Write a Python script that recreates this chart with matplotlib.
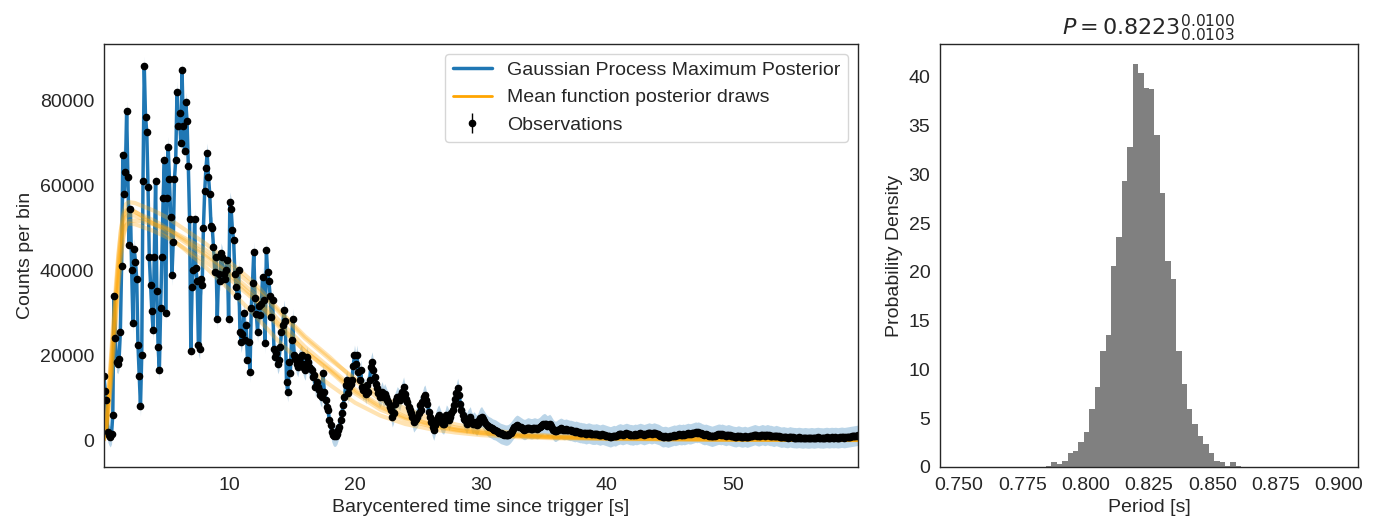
import matplotlib
matplotlib.use("Agg")
import matplotlib.pyplot as plt
import numpy as np
import seaborn as sns

# --- light curve, 0.1 s bins starting at t = 0.05 s
bin_width = 0.1
t_first = 0.05
obs_counts = np.array([
    15000, 11500, 9500, 2000, 1200, 800, 1500, 6000, 34000, 24000,
    18400, 18000, 19000, 25500, 41000, 67000, 58000, 63000, 77500, 62000,
    46000, 54500, 40000, 27500, 45000, 42000, 38000, 22500, 15000, 8000,
    20000, 61000, 88000, 76000, 72500, 59500, 43000, 36500, 30500, 26000,
    43000, 61000, 35000, 22000, 16500, 31000, 43000, 57000, 66000, 30000,
    57000, 69000, 61500, 52500, 38800, 46600, 61500, 66000, 82000, 74000,
    77000, 70000, 87000, 74000, 68000, 79500, 75000, 64500, 52000, 21000,
    36000, 40000, 52000, 40500, 37500, 22500, 21500, 38000, 36500, 50000,
    58500, 64000, 67500, 62000, 58000, 50500, 50000, 45500, 39500, 43000,
    28500, 39000, 37500, 44000, 43000, 39000, 38000, 40000, 42500, 28500,
    56000, 54500, 49500, 47000, 39000, 36000, 34000, 40000, 25500, 23000,
    25000, 30000, 23500, 27000, 18800, 23000, 16000, 31000, 37000, 44300,
    33500, 29800, 25500, 31500, 29500, 32000, 38500, 33000, 22800, 44700,
    39500, 37500, 34000, 29000, 33000, 21500, 19600, 20400, 18000, 18800,
    22000, 25500, 27000, 30600, 28000, 13700, 11400, 18500, 15700, 23500,
    28500, 20000, 19000, 18000, 17300, 18800, 19600, 20000, 18000, 17000,
    16500, 19600, 18400, 17300, 17000, 16500, 14900, 15300, 12500, 13700,
    12500, 11800, 10600, 10200, 15700, 11400, 9400, 7800, 7100, 4700,
    3500, 2000, 1200, 900, 1000, 1400, 2300, 3100, 4700, 6300,
    8200, 10200, 12900, 14100, 11000, 12500, 13300, 14100, 17500, 20000,
    18000, 20000, 16100, 14100, 16500, 12500, 11800, 12200, 10900, 13000,
    11400, 14100, 17250, 18400, 16500, 14900, 13300, 12200, 11000, 10200,
    10600, 11400, 10200, 10900, 10200, 9400, 9000, 7800, 7100, 5500,
    6300, 8600, 9400, 10200, 9800, 9400, 10600, 11400, 12500, 10900,
    9800, 9000, 7800, 7000, 6300, 5500, 4300, 4700, 5100, 5500,
    6300, 8200, 7100, 9000, 10200, 10600, 9400, 8600, 6700, 5500,
    4300, 3100, 2350, 3500, 4700, 5500, 5900, 5100, 4300, 3900,
    3900, 4700, 5900, 5500, 4700, 5500, 6300, 7000, 8200, 9800,
    11000, 12200, 10600, 8600, 7000, 5900, 5100, 4700, 3900, 4700,
    5100, 5500, 4300, 3900, 4300, 3900, 3500, 3900, 4700, 5300,
    5500, 5000, 4500, 4000, 3600, 3300, 3100, 3000, 2800, 2600,
    2500, 2400, 2200, 2000, 1800, 1600, 1500, 1400, 1300, 1200,
    1200, 1300, 1500, 1800, 2200, 2600, 3000, 3300, 3500, 3400,
    3200, 3000, 2800, 2600, 2500, 2600, 2800, 2900, 2800, 2700,
    2700, 2800, 2900, 2800, 2700, 2800, 3000, 3300, 3600, 3800,
    3900, 3700, 3400, 3500, 3700, 3400, 2900, 2400, 2100, 2100,
    2300, 2500, 2700, 2800, 2700, 2500, 2500, 2600, 2500, 2400,
    2300, 2300, 2200, 2100, 2000, 2100, 2000, 1900, 1800, 1800,
    1700, 1700, 1600, 1500, 1600, 1700, 1600, 1500, 1400, 1400,
    1400, 1500, 1400, 1300, 1200, 1300, 1400, 1300, 1200, 1100,
    1000, 900, 800, 850, 1000, 1100, 1000, 1100, 1300, 1400,
    1500, 1400, 1300, 1400, 1500, 1600, 1500, 1400, 1300, 1300,
    1200, 1300, 1400, 1300, 1400, 1500, 1600, 1500, 1400, 1300,
    1400, 1500, 1600, 1700, 1600, 1500, 1600, 1700, 1600, 1500,
    1400, 1300, 1100, 900, 800, 850, 900, 800, 700, 800,
    900, 1000, 1100, 1200, 1100, 1200, 1300, 1400, 1300, 1300,
    1400, 1300, 1400, 1500, 1600, 1500, 1500, 1600, 1700, 1800,
    1900, 1800, 1900, 1800, 1700, 1500, 1400, 1300, 1400, 1300,
    1200, 1100, 1000, 900, 1000, 1100, 1200, 1300, 1400, 1400,
    1300, 1400, 1300, 1200, 1100, 1200, 1300, 1200, 1100, 1000,
    900, 850, 800, 900, 1000, 900, 800, 750, 800, 900,
    800, 700, 800, 900, 1000, 1100, 1200, 1300, 1200, 1100,
    1000, 1100, 1200, 1300, 1200, 1100, 1200, 1300, 1200, 1100,
    1100, 1000, 900, 1000, 1100, 1000, 900, 800, 700, 750,
    800, 700, 650, 600, 700, 800, 700, 650, 600, 600,
    550, 600, 650, 600, 550, 500, 550, 600, 550, 500,
    500, 550, 600, 550, 500, 550, 600, 650, 600, 550,
    550, 500, 550, 600, 650, 600, 550, 600, 650, 600,
    600, 650, 600, 550, 600, 650, 700, 650, 600, 650,
    700, 750, 800, 850, 900, 950, 1000, 1050, 1100, 1200,
])
time = t_first + bin_width * np.arange(len(obs_counts))
obs_err = np.sqrt(obs_counts)
gp_halfwidth = 2400  # half width of the GP uncertainty band

# --- mean function posterior draws, read at a few knots
draw_times = [0.0, 0.2, 0.4, 0.6, 0.8, 1.0, 1.2, 1.4, 1.6, 1.8, 2.0, 2.5, 3.0, 4.0, 5.0, 6.0,
              8.0, 10.0, 12.0, 14.0, 16.0, 18.0, 20.0, 22.0, 24.0, 26.0, 28.0, 30.0, 33.0,
              36.0, 40.0, 45.0, 50.0, 60.0]
draw_1 = [0, 2500, 10000, 18000, 26500, 35000, 43000, 49500, 53500, 55500, 56000, 55800, 55200,
          54000, 52500, 50500, 46500, 42000, 37000, 30500, 24500, 19500, 14000, 9500, 6300, 4300,
          3000, 2100, 1300, 850, 550, 330, 200, 80]
draw_2 = [0, 1500, 7500, 14000, 21500, 29500, 37500, 44000, 48500, 50500, 51000, 50800, 50300,
          49200, 47800, 46000, 42200, 38000, 33000, 26500, 21000, 16500, 11500, 7800, 5200, 3600,
          2500, 1700, 1000, 650, 420, 260, 150, 60]
draw_3 = [0, 2000, 9000, 16000, 24000, 32000, 40000, 46500, 50500, 52500, 53000, 52800, 52200,
          51000, 49500, 47500, 43500, 39000, 33500, 27000, 21000, 16200, 11000, 7200, 4800, 3300,
          2300, 1600, 950, 620, 400, 240, 140, 55]
draw_4 = [0, 1200, 6500, 13000, 20500, 28500, 36500, 43000, 48000, 50500, 51500, 51700, 51500,
          50800, 49800, 48300, 45000, 41000, 36000, 30000, 24000, 19000, 14500, 10500, 7400, 5200,
          3700, 2600, 1600, 1000, 600, 350, 200, 80]
draw_5 = [0, 3000, 11000, 19500, 28000, 36500, 44000, 49500, 52800, 54000, 54300, 53800, 52800,
          50800, 48500, 46000, 41000, 35500, 29500, 23000, 17500, 13000, 8800, 5800, 3800, 2600,
          1800, 1200, 700, 450, 280, 170, 100, 40]
draw_6 = [0, 2200, 9500, 17000, 25000, 33500, 41500, 47500, 51500, 53500, 54000, 53700, 53000,
          51700, 50000, 48000, 44000, 39500, 34500, 28000, 22000, 17000, 12000, 8200, 5500, 3800,
          2600, 1800, 1100, 700, 450, 270, 160, 60]
mean_draws = [draw_1, draw_2, draw_3, draw_4, draw_5, draw_6]

# --- period posterior histogram
period_edges = np.linspace(0.75, 0.90, 71)
period_density = [0.0] * 16 + [
    0.14, 0.48, 0.27, 0.65, 1.41, 1.68, 2.54, 3.57, 5.93, 8.2,
    11.93, 13.5, 20.6, 23.6, 29.3, 32.8, 41.3, 40.4, 38.9, 38.7,
    34.05, 28.05, 21.1, 19.3, 11.9, 8.5, 5.9, 4.4, 3.2, 2.4,
    1.4, 0.65, 0.55, 0.1, 0.48, 0.05,
] + [0.0] * 18
period_label = r"$P = 0.8223^{0.0100}_{0.0103}$"

sns.set_style("white")
plt.rcParams["font.family"] = ["Liberation Sans", "DejaVu Sans"]
plt.rcParams["font.size"] = 14

fig = plt.figure(figsize=(13.79, 5.26), dpi=100)
ax = fig.add_axes([0.0754, 0.1122, 0.5468, 0.8042])
ax2 = fig.add_axes([0.6817, 0.1122, 0.3031, 0.8042])

ax.fill_between(time, obs_counts - gp_halfwidth, obs_counts + gp_halfwidth,
                color="C0", alpha=0.3, lw=0)
ax.plot(time, obs_counts, color="C0", lw=2.5, label="Gaussian Process Maximum Posterior")
for d in mean_draws:
    ax.plot(draw_times, d, color="orange", alpha=0.3, lw=3)
ax.plot([], [], color="orange", lw=2, label="Mean function posterior draws")
ax.errorbar(time, obs_counts, yerr=obs_err, fmt="o", color="k", ms=4.5, lw=1,
            label="Observations")
ax.set_xlim(time[0], time[-1])
ax.set_ylim(-6300, 93200)
ax.set_yticks([0, 20000, 40000, 60000, 80000])
ax.set_xlabel("Barycentered time since trigger [s]")
ax.set_ylabel("Counts per bin")
ax.legend(loc="upper right", fontsize=14)

centers = 0.5 * (period_edges[:-1] + period_edges[1:])
ax2.hist(centers, bins=period_edges, weights=period_density, color="gray", lw=0)
ax2.set_xticks([0.75, 0.775, 0.8, 0.825, 0.85, 0.875, 0.9])
ax2.set_xticklabels(["0.750", "0.775", "0.800", "0.825", "0.850", "0.875", "0.900"])
ax2.set_xlabel("Period [s]")
ax2.set_ylabel("Probability Density")
ax2.set_title(period_label, fontsize=16)

for a in (ax, ax2):
    for s in a.spines.values():
        s.set_linewidth(1.0)

fig.savefig("out.png", dpi=100)
